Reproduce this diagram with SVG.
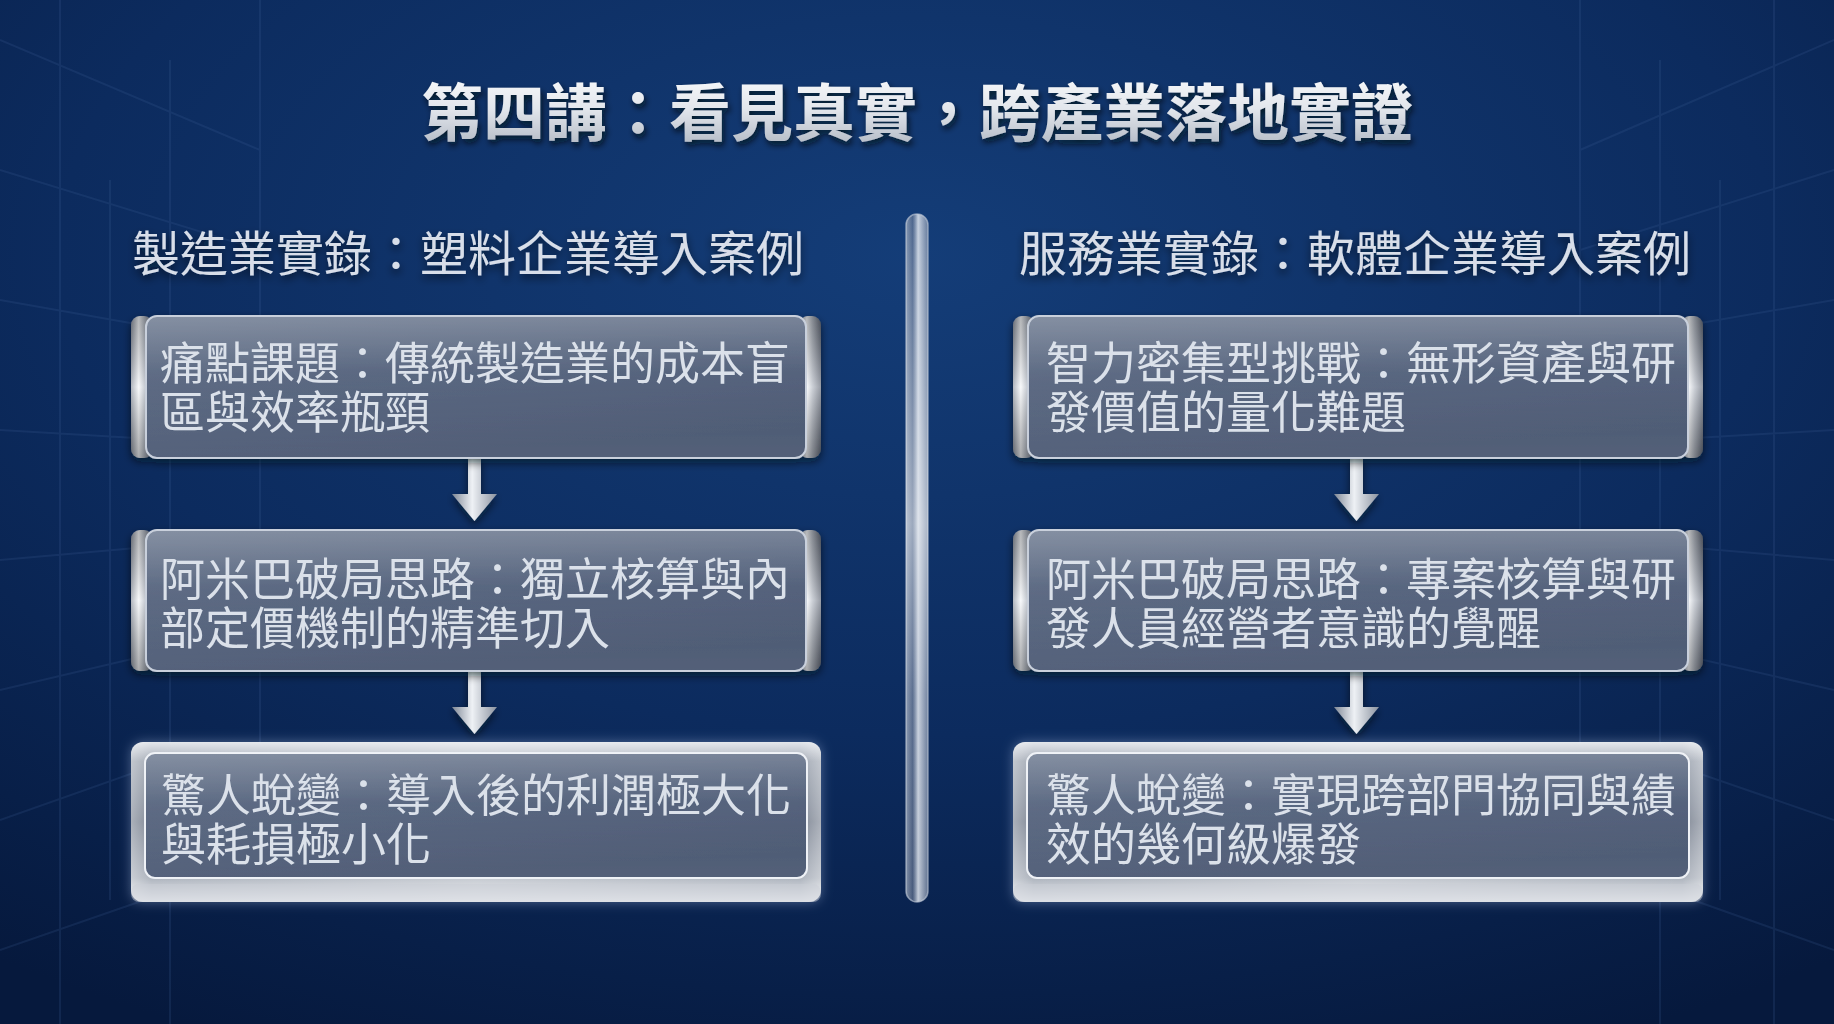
<svg xmlns="http://www.w3.org/2000/svg" width="1834" height="1024" viewBox="0 0 1834 1024">
<defs>
  <radialGradient id="bg" cx="0.5" cy="0.25" r="0.85">
    <stop offset="0" stop-color="#143d78"/>
    <stop offset="0.55" stop-color="#0c2b5e"/>
    <stop offset="1" stop-color="#06193d"/>
  </radialGradient>
  <linearGradient id="titleFill" x1="0" y1="0" x2="0" y2="1">
    <stop offset="0" stop-color="#ffffff"/>
    <stop offset="0.5" stop-color="#e2e6ec"/>
    <stop offset="1" stop-color="#a9b1bd"/>
  </linearGradient>
  <linearGradient id="panel" x1="0" y1="0" x2="0.3" y2="1">
    <stop offset="0" stop-color="#6e7b91"/>
    <stop offset="0.45" stop-color="#56647e"/>
    <stop offset="1" stop-color="#44526d"/>
  </linearGradient>
  <linearGradient id="panelSheen" x1="0" y1="0" x2="0" y2="1">
    <stop offset="0" stop-color="#ffffff" stop-opacity="0.16"/>
    <stop offset="0.4" stop-color="#ffffff" stop-opacity="0.03"/>
    <stop offset="1" stop-color="#ffffff" stop-opacity="0.08"/>
  </linearGradient>
  <linearGradient id="capL" x1="0" y1="0" x2="1" y2="0">
    <stop offset="0" stop-color="#8a919d"/>
    <stop offset="0.35" stop-color="#f4f6f9"/>
    <stop offset="0.6" stop-color="#b4bac4"/>
    <stop offset="1" stop-color="#5f6674"/>
  </linearGradient>
  <linearGradient id="capV" x1="0" y1="0" x2="0" y2="1">
    <stop offset="0" stop-color="#000" stop-opacity="0.25"/>
    <stop offset="0.5" stop-color="#fff" stop-opacity="0.35"/>
    <stop offset="1" stop-color="#000" stop-opacity="0.3"/>
  </linearGradient>
  <linearGradient id="frame" x1="0" y1="0" x2="0" y2="1">
    <stop offset="0" stop-color="#e4e7ec"/>
    <stop offset="0.12" stop-color="#a3aab5"/>
    <stop offset="0.5" stop-color="#7f8795"/>
    <stop offset="0.85" stop-color="#aeb4be"/>
    <stop offset="1" stop-color="#eef0f4"/>
  </linearGradient>
  <linearGradient id="frameH" x1="0" y1="0" x2="1" y2="0">
    <stop offset="0" stop-color="#fff" stop-opacity="0.35"/>
    <stop offset="0.03" stop-color="#fff" stop-opacity="0"/>
    <stop offset="0.5" stop-color="#fff" stop-opacity="0.3"/>
    <stop offset="0.97" stop-color="#fff" stop-opacity="0"/>
    <stop offset="1" stop-color="#fff" stop-opacity="0.35"/>
  </linearGradient>
  <linearGradient id="arrow" x1="0" y1="0" x2="1" y2="0">
    <stop offset="0" stop-color="#7f8896"/>
    <stop offset="0.45" stop-color="#eef1f5"/>
    <stop offset="1" stop-color="#8b93a0"/>
  </linearGradient>
  <linearGradient id="rod" x1="0" y1="0" x2="1" y2="0">
    <stop offset="0" stop-color="#aab4c4" stop-opacity="0.75"/>
    <stop offset="0.3" stop-color="#7d8aa2" stop-opacity="0.55"/>
    <stop offset="0.55" stop-color="#e6ebf2" stop-opacity="0.85"/>
    <stop offset="1" stop-color="#8795ad" stop-opacity="0.7"/>
  </linearGradient>
  <linearGradient id="rodV" x1="0" y1="0" x2="0" y2="1">
    <stop offset="0" stop-color="#fff" stop-opacity="0"/>
    <stop offset="0.45" stop-color="#fff" stop-opacity="0.45"/>
    <stop offset="0.7" stop-color="#fff" stop-opacity="0.1"/>
    <stop offset="1" stop-color="#fff" stop-opacity="0"/>
  </linearGradient>
  <filter id="shadow" x="-10%" y="-10%" width="120%" height="130%">
    <feDropShadow dx="0" dy="4" stdDeviation="4" flood-color="#000814" flood-opacity="0.6"/>
  </filter>
  <filter id="tshadow" x="-5%" y="-20%" width="110%" height="150%">
    <feDropShadow dx="2" dy="4" stdDeviation="3" flood-color="#000814" flood-opacity="0.75"/>
  </filter>
  <filter id="glow" x="-10%" y="-20%" width="120%" height="140%">
    <feDropShadow dx="0" dy="0" stdDeviation="6" flood-color="#cfe0ff" flood-opacity="0.35"/>
  </filter>
</defs>
<style>
  .title { font-family: "Noto Sans CJK TC", "Noto Sans CJK SC", sans-serif; font-weight: 700; font-size: 62px; fill: url(#titleFill); }
  .head { font-family: "Noto Sans CJK TC", "Noto Sans CJK SC", sans-serif; font-size: 48px; fill: #d8dee9; }
  .txt { font-family: "Noto Sans CJK TC", "Noto Sans CJK SC", sans-serif; font-size: 45px; fill: #dbe1ea; }
  .grid { stroke: #4a6aa0; stroke-opacity: 0.18; stroke-width: 2; fill: none; }
  .panelBorder { fill: none; stroke: #c9d0dc; stroke-width: 2; }
</style>

<rect width="1834" height="1024" fill="url(#bg)"/>
<g id="background">
  <path class="grid" d="M0 40 L260 150 M0 170 L260 250 M0 300 L170 330 M0 430 L170 440 M0 560 L170 545 M0 690 L170 650 M0 820 L170 760 M0 950 L260 860 M60 0 V1024 M110 180 V900 M170 60 V1024 M260 0 V880"/>
  <path class="grid" d="M1834 40 L1580 150 M1834 170 L1580 250 M1834 300 L1660 330 M1834 430 L1660 440 M1834 560 L1660 545 M1834 690 L1660 650 M1834 820 L1660 760 M1834 950 L1580 860 M1774 0 V1024 M1720 180 V900 M1660 60 V1024 M1580 0 V880"/>
</g>

<g id="title" filter="url(#tshadow)">
  <text class="title" x="917" y="136" text-anchor="middle">第四講：看見真實，跨產業落地實證</text>
</g>

<g id="header-left">
  <text class="head" x="132" y="271" filter="url(#shadow)">製造業實錄：塑料企業導入案例</text>
</g>
<g id="header-right">
  <text class="head" x="1019" y="271" filter="url(#shadow)">服務業實錄：軟體企業導入案例</text>
</g>

<g id="divider">
  <rect x="906" y="214" width="22" height="688" rx="11" fill="url(#rod)" stroke="#c4cdda" stroke-opacity="0.6" stroke-width="1.5"/>
  <rect x="906" y="214" width="22" height="688" rx="11" fill="url(#rodV)"/>
</g>

<g id="connectors">
  <path d="M468 458 H481 V494 H497 L474.5 521 L452 494 H468 Z" fill="url(#arrow)" filter="url(#shadow)"/>
  <path d="M468 671 H481 V707 H497 L474.5 734 L452 707 H468 Z" fill="url(#arrow)" filter="url(#shadow)"/>
  <path d="M1350 458 H1363 V494 H1379 L1356.5 521 L1334 494 H1350 Z" fill="url(#arrow)" filter="url(#shadow)"/>
  <path d="M1350 671 H1363 V707 H1379 L1356.5 734 L1334 707 H1350 Z" fill="url(#arrow)" filter="url(#shadow)"/>
</g>

<!-- Left column -->
<g id="L1" filter="url(#shadow)">
  <rect x="131" y="316" width="22" height="142" rx="9" fill="url(#capL)"/>
  <rect x="131" y="316" width="22" height="142" rx="9" fill="url(#capV)"/>
  <rect x="799" y="316" width="22" height="142" rx="9" fill="url(#capL)"/>
  <rect x="799" y="316" width="22" height="142" rx="9" fill="url(#capV)"/>
  <rect x="146" y="316" width="660" height="142" rx="11" fill="url(#panel)"/>
  <rect x="146" y="316" width="660" height="142" rx="11" fill="url(#panelSheen)"/>
  <rect x="146" y="316" width="660" height="142" rx="11" class="panelBorder"/>
  <text class="txt"><tspan x="160" y="380">痛點課題：傳統製造業的成本盲</tspan><tspan x="160" y="429">區與效率瓶頸</tspan></text>
</g>
<g id="L2" filter="url(#shadow)">
  <rect x="131" y="530" width="22" height="141" rx="9" fill="url(#capL)"/>
  <rect x="131" y="530" width="22" height="141" rx="9" fill="url(#capV)"/>
  <rect x="799" y="530" width="22" height="141" rx="9" fill="url(#capL)"/>
  <rect x="799" y="530" width="22" height="141" rx="9" fill="url(#capV)"/>
  <rect x="146" y="530" width="660" height="141" rx="11" fill="url(#panel)"/>
  <rect x="146" y="530" width="660" height="141" rx="11" fill="url(#panelSheen)"/>
  <rect x="146" y="530" width="660" height="141" rx="11" class="panelBorder"/>
  <text class="txt"><tspan x="160" y="596">阿米巴破局思路：獨立核算與內</tspan><tspan x="160" y="645">部定價機制的精準切入</tspan></text>
</g>
<g id="L3" filter="url(#glow)">
  <rect x="131" y="742" width="690" height="160" rx="12" fill="url(#frame)"/>
  <rect x="131" y="742" width="690" height="160" rx="12" fill="url(#frameH)"/>
  <rect x="131" y="884" width="690" height="18" rx="8" fill="#c9ced6" opacity="0.5"/>
  <rect x="145" y="753" width="662" height="125" rx="10" fill="url(#panel)" stroke="#eef1f6" stroke-width="2"/>
  <rect x="145" y="753" width="662" height="125" rx="10" fill="url(#panelSheen)"/>
  <text class="txt"><tspan x="161" y="812">驚人蛻變：導入後的利潤極大化</tspan><tspan x="161" y="861">與耗損極小化</tspan></text>
</g>

<!-- Right column -->
<g id="R1" filter="url(#shadow)">
  <rect x="1013" y="316" width="22" height="142" rx="9" fill="url(#capL)"/>
  <rect x="1013" y="316" width="22" height="142" rx="9" fill="url(#capV)"/>
  <rect x="1681" y="316" width="22" height="142" rx="9" fill="url(#capL)"/>
  <rect x="1681" y="316" width="22" height="142" rx="9" fill="url(#capV)"/>
  <rect x="1028" y="316" width="660" height="142" rx="11" fill="url(#panel)"/>
  <rect x="1028" y="316" width="660" height="142" rx="11" fill="url(#panelSheen)"/>
  <rect x="1028" y="316" width="660" height="142" rx="11" class="panelBorder"/>
  <text class="txt"><tspan x="1046" y="380">智力密集型挑戰：無形資產與研</tspan><tspan x="1046" y="429">發價值的量化難題</tspan></text>
</g>
<g id="R2" filter="url(#shadow)">
  <rect x="1013" y="530" width="22" height="141" rx="9" fill="url(#capL)"/>
  <rect x="1013" y="530" width="22" height="141" rx="9" fill="url(#capV)"/>
  <rect x="1681" y="530" width="22" height="141" rx="9" fill="url(#capL)"/>
  <rect x="1681" y="530" width="22" height="141" rx="9" fill="url(#capV)"/>
  <rect x="1028" y="530" width="660" height="141" rx="11" fill="url(#panel)"/>
  <rect x="1028" y="530" width="660" height="141" rx="11" fill="url(#panelSheen)"/>
  <rect x="1028" y="530" width="660" height="141" rx="11" class="panelBorder"/>
  <text class="txt"><tspan x="1046" y="596">阿米巴破局思路：專案核算與研</tspan><tspan x="1046" y="645">發人員經營者意識的覺醒</tspan></text>
</g>
<g id="R3" filter="url(#glow)">
  <rect x="1013" y="742" width="690" height="160" rx="12" fill="url(#frame)"/>
  <rect x="1013" y="742" width="690" height="160" rx="12" fill="url(#frameH)"/>
  <rect x="1013" y="884" width="690" height="18" rx="8" fill="#c9ced6" opacity="0.5"/>
  <rect x="1027" y="753" width="662" height="125" rx="10" fill="url(#panel)" stroke="#eef1f6" stroke-width="2"/>
  <rect x="1027" y="753" width="662" height="125" rx="10" fill="url(#panelSheen)"/>
  <text class="txt"><tspan x="1046" y="812">驚人蛻變：實現跨部門協同與績</tspan><tspan x="1046" y="861">效的幾何級爆發</tspan></text>
</g>
</svg>
